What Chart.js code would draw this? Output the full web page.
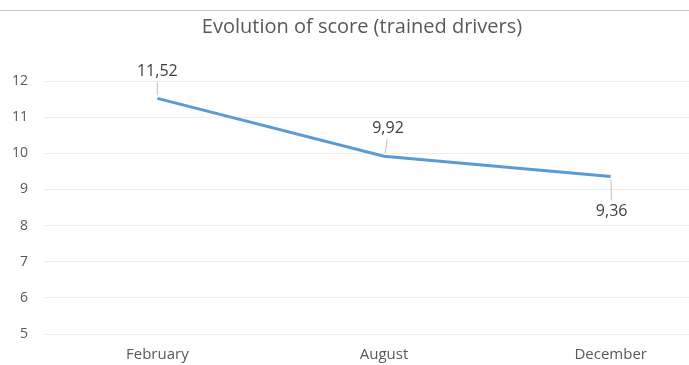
<!DOCTYPE html>
<html>
<head>
<meta charset="utf-8">
<script src="https://cdn.jsdelivr.net/npm/chart.js@4.4.1/dist/chart.umd.min.js"></script>
<style>
  html, body { margin: 0; padding: 0; background: #fff; overflow: hidden; }
  #wrap { position: relative; width: 730px; height: 365px; }
  #topline { position: absolute; left: 0; top: 10px; width: 689px; height: 0; border-top: 1px solid #c8c8c8; }
</style>
</head>
<body>
<div id="wrap">
  <div id="topline"></div>
  <canvas id="myChart" width="730" height="365"></canvas>
</div>
<script>
  const months = ["February", "August", "December"];
  const scores = [11.52, 9.92, 9.36];
  const yTicks = [5, 6, 7, 8, 9, 10, 11, 12];

  // value labels with a thin leader line down/up to the point
  const leaderLabels = {
    id: 'leaderLabels',
    afterDatasetsDraw(chart, args, opts) {
      const ctx = chart.ctx;
      const meta = chart.getDatasetMeta(0);
      ctx.save();
      ctx.font = '16px "Open Sans", sans-serif';
      ctx.textAlign = 'center';
      ctx.textBaseline = 'middle';
      meta.data.forEach((pt, i) => {
        const o = opts.offsets[i];
        const lx = pt.x + o.dx, ly = pt.y + o.dy;
        ctx.strokeStyle = '#bfbfbf';
        ctx.lineWidth = 1;
        ctx.beginPath();
        ctx.moveTo(pt.x + o.dx * 0.3, pt.y + (o.dy > 0 ? 3 : -3));
        ctx.lineTo(lx - o.dx * 0.2, ly + (o.dy > 0 ? -11 : 11));
        ctx.stroke();
        ctx.fillStyle = '#404040';
        ctx.fillText(scores[i].toFixed(2).replace('.', ','), lx, ly);
      });
      ctx.restore();
    }
  };

  const data = {
    labels: months,
    datasets: [{
      label: 'Score',
      data: scores,
      borderColor: '#5b9bd5',
      backgroundColor: '#5b9bd5',
      borderWidth: 3,
      pointRadius: 0,
      tension: 0
    }]
  };

  const config = {
    type: 'line',
    data: data,
    plugins: [leaderLabels],
    options: {
      responsive: false,
      animation: false,
      layout: { padding: { left: 0, right: 6, top: 0, bottom: 0 } },
      plugins: {
        legend: { display: false },
        tooltip: { enabled: false },
        title: {
          display: true,
          text: 'Evolution of score (trained drivers)',
          color: '#595959',
          font: { family: '"Open Sans", sans-serif', size: 20, weight: 'normal' },
          padding: { top: 15, bottom: 42 }
        },
        leaderLabels: {
          offsets: [{ dx: 0, dy: -27 }, { dx: 4, dy: -28 }, { dx: 1, dy: 35 }]
        }
      },
      scales: {
        x: {
          offset: true,
          grid: { display: false, drawTicks: false },
          border: { display: false },
          ticks: { color: '#595959', font: { family: '"Open Sans", sans-serif', size: 15 }, padding: 12 },
          afterFit: (axis) => { axis.height = 31; }
        },
        y: {
          min: 5,
          max: 12,
          afterBuildTicks: (axis) => { axis.ticks = yTicks.map(v => ({ value: v })); },
          grid: { color: '#ececec', drawTicks: false },
          border: { display: false },
          ticks: { color: '#595959', font: { family: '"Open Sans", sans-serif', size: 14 }, padding: 16 },
          afterFit: (axis) => { axis.width = 44; }
        }
      }
    }
  };

  const myChart = new Chart(document.getElementById('myChart'), config);
</script>
</body>
</html>
